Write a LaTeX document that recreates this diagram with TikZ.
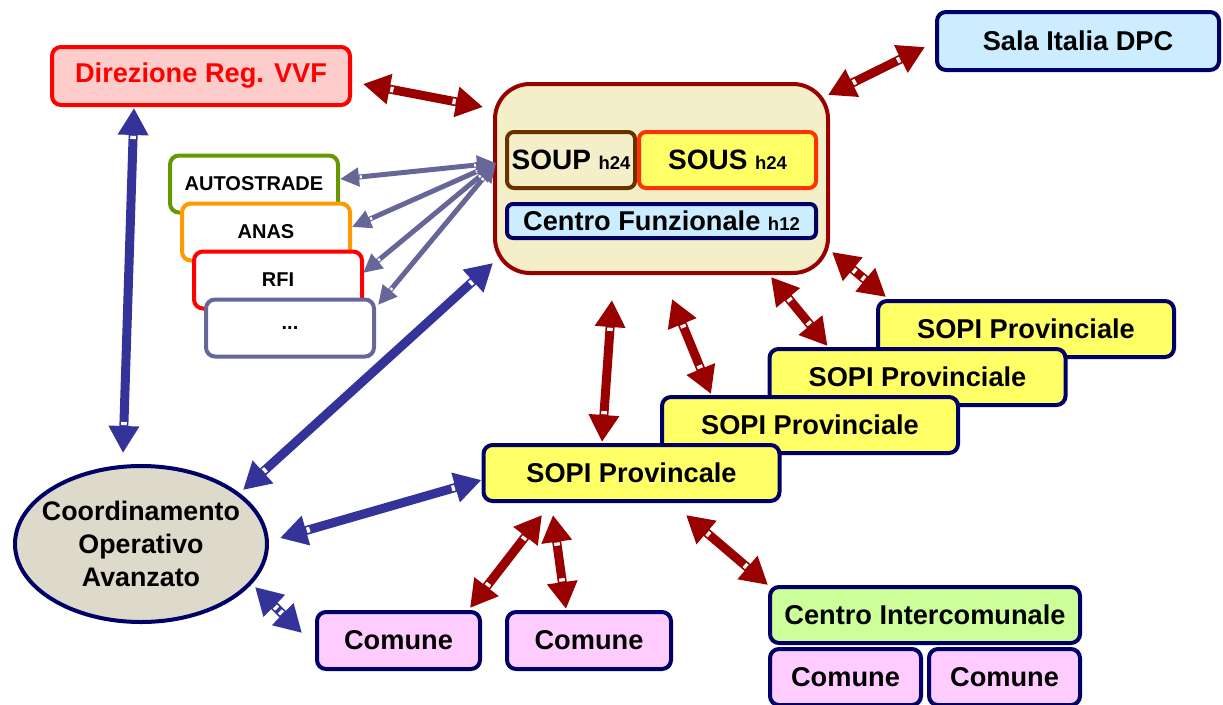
\documentclass[tikz,border=0pt]{standalone}
\usepackage{fontspec}
\setmainfont{Liberation Sans}
\usetikzlibrary{arrows.meta,shapes.geometric,decorations.markings}
\definecolor{navy}{HTML}{000066}
\definecolor{arrred}{HTML}{990000}
\definecolor{arrblue}{HTML}{333399}
\definecolor{arrslate}{HTML}{666699}
\definecolor{pinkfill}{HTML}{FFCCCC}
\definecolor{skyfill}{HTML}{CCECFF}
\definecolor{creamfill}{HTML}{F4EEC9}
\definecolor{yellowfill}{HTML}{FFFF66}
\definecolor{comfill}{HTML}{FFCCFF}
\definecolor{greenfill}{HTML}{CCFF99}
\definecolor{coordfill}{HTML}{DDDACB}
\definecolor{soupbrown}{HTML}{663300}
\definecolor{sousred}{HTML}{FF3300}
\definecolor{autogreen}{HTML}{669900}
\definecolor{anasorange}{HTML}{FF9900}
\tikzset{
  bx/.style={rectangle, rounded corners=9pt, line width=4pt, draw=navy, inner sep=0pt,
    font=\bfseries\fontsize{27.2}{30}\selectfont, text=black},
  stackbox/.style={bx, fill=white, minimum width=168pt, minimum height=57pt,
    font=\bfseries\fontsize{20}{24}\selectfont},
  sopibox/.style={bx, fill=yellowfill, minimum width=296pt, minimum height=56pt},
  comunebox/.style={bx, fill=comfill},
  notches/.style n args={3}{postaction={decorate, decoration={markings,
      mark=at position #1 with {\fill[white] (0.8pt,-#2) rectangle (#3,#2);},
      mark=at position -#1 with {\fill[white] (-0.8pt,-#2) rectangle (-#3,#2);}}}},
  redarr/.style={draw=arrred, line width=9pt,
    {Triangle[length=27pt,width=29pt]}-{Triangle[length=27pt,width=29pt]},
    notches={27pt}{2.8pt}{4pt}},
  bluearr/.style={draw=arrblue, line width=9pt,
    {Triangle[length=27pt,width=29pt]}-{Triangle[length=27pt,width=29pt]},
    notches={27pt}{2.8pt}{4pt}},
  slatearr/.style={draw=arrslate, line width=5pt,
    {Triangle[length=19pt,width=18pt]}-{Triangle[length=19pt,width=18pt]},
    notches={19pt}{1.4pt}{3pt}},
}
\begin{document}
\begin{tikzpicture}[x=1pt,y=-1pt]
\useasboundingbox (0,0) rectangle (1223,704);

% top left
\node[bx, draw=red, fill=pinkfill, text=red, minimum width=298pt, minimum height=58pt] (dir) at (201,76) {Direzione Reg. VVF};
\node[bx, fill=skyfill, minimum width=282pt, minimum height=58pt] (sala) at (1078,41) {Sala Italia DPC};

% main box
\node[bx, draw=arrred, fill=creamfill, rounded corners=35pt, minimum width=333pt, minimum height=189pt] (main) at (661.5,178.5) {};
\node[bx, draw=soupbrown, fill=creamfill, rounded corners=7pt, minimum width=128pt, minimum height=56pt] (soup) at (571,160)
  {{\fontsize{28}{30}\selectfont SOUP}\ {\fontsize{18.5}{20}\selectfont h24}};
\node[bx, draw=sousred, fill=yellowfill, rounded corners=7pt, minimum width=177pt, minimum height=56pt] (sous) at (727.5,160)
  {{\fontsize{28}{30}\selectfont SOUS}\ {\fontsize{18.5}{20}\selectfont h24}};
\node[bx, fill=skyfill, rounded corners=6pt, minimum width=309pt, minimum height=34pt] (cf) at (661.5,221)
  {Centro Funzionale\ {\fontsize{18.5}{20}\selectfont h12}};

% stack of operators
\node[stackbox, draw=autogreen] (auto) at (254,184) {AUTOSTRADE};
\node[stackbox, draw=anasorange] (anas) at (266,232) {ANAS};
\node[stackbox, draw=red] (rfi) at (278,280) {RFI};
\node[stackbox, draw=arrslate] (dots) at (290,328) {...};

% coordinamento
\node[ellipse, draw=navy, line width=4pt, fill=coordfill, minimum width=252pt, minimum height=156pt, inner sep=0pt] (coord) at (141,544) {};
\node[align=center, inner sep=0pt, font=\bfseries\fontsize{26.8}{33}\selectfont] (coordtext) at (coord.center)
  {Coordinamento\\Operativo\\Avanzato};

% SOPI stack
\node[sopibox] (sopiA) at (1026,329) {SOPI Provinciale};
\node[sopibox] (sopiB) at (917.5,377) {SOPI Provinciale};
\node[sopibox] (sopiC) at (810,425) {SOPI Provinciale};
\node[sopibox] (sopi) at (631.5,473) {SOPI Provincale};

% comuni
\node[comunebox, minimum width=163pt, minimum height=57pt] (com1) at (398.5,640.5) {Comune};
\node[comunebox, minimum width=164pt, minimum height=57pt] (com2) at (589,640.5) {Comune};
\node[bx, fill=greenfill, minimum width=310pt, minimum height=56pt] (ci) at (925,615) {Centro Intercomunale};
\node[comunebox, minimum width=151pt, minimum height=56pt] (com3) at (845.5,677) {Comune};
\node[comunebox, minimum width=151pt, minimum height=56pt] (com4) at (1004.5,677) {Comune};

% red arrows
\draw[redarr] ([shift={(11,8)}]dir.east) -- ([shift={(-10,25)}]main.north west);
\draw[redarr] ([shift={(-2,13)}]main.north east) -- ([shift={(-10,6)}]sala.west);
\draw[redarr] ([shift={(2,-23)}]main.south east) -- ([shift={(10,-2)}]sopiA.north west);
\draw[redarr] ([shift={(-59,2)}]main.south east) -- ([shift={(60,-1)}]sopiB.north west);
\draw[redarr] ([shift={(10.5,24)}]main.south) -- ([shift={(51,-1)}]sopiC.north west);
\draw[redarr] ([shift={(-49.5,25)}]main.south) -- ([shift={(-29.5,-1)}]sopi.north);
\draw[redarr] ([shift={(-89.5,12)}]sopi.south) -- ([shift={(-12,-2)}]com1.north east);
\draw[redarr] ([shift={(-78.5,12)}]sopi.south) -- ([shift={(-23,-1)}]com2.north);
\draw[redarr] ([shift={(54.5,12)}]sopi.south) -- (ci.north west);

% blue arrows
\draw[bluearr] ([shift={(-67,1)}]dir.south) -- ([shift={(-18,-11)}]coord.north);
\draw[bluearr] ([shift={(0,-12)}]main.south west) -- ([shift={(102,-54)}]coord.center);
\draw[bluearr] ([shift={(0,7)}]sopi.west) -- ([shift={(11,-6)}]coord.east);
\draw[bluearr] ([shift={(114,43)}]coord.center) -- ([shift={(-13,-7.5)}]com1.west);

% slate arrows
\draw[slatearr] ([shift={(3,-15.5)}]main.west) -- ([shift={(0,-5)}]auto.east);
\draw[slatearr] ([shift={(3,-15.5)}]main.west) -- ([shift={(0,-5)}]anas.east);
\draw[slatearr] ([shift={(3,-15.5)}]main.west) -- ([shift={(-1,-7)}]rfi.east);
\draw[slatearr] ([shift={(3,-15.5)}]main.west) -- ([shift={(2,-23)}]dots.east);
\end{tikzpicture}
\end{document}
